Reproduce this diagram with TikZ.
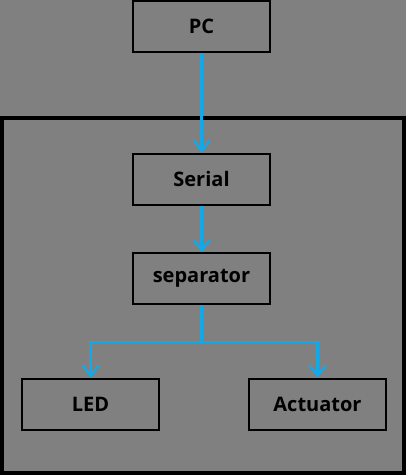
\documentclass[tikz,border=0pt]{standalone}
\usepackage{fontspec}
\setmainfont{Open Sans}
\usetikzlibrary{arrows.meta}
\definecolor{linkblue}{RGB}{20,168,230}
\definecolor{bggray}{RGB}{128,128,128}
\tikzset{
    block/.style={draw=black,line width=1.5pt,minimum width=102.75pt,minimum height=38.25pt,
        inner sep=0pt,font=\fontsize{15}{18}\selectfont\bfseries},
    link/.style={draw=linkblue,line width=1.8pt,-{Straight Barb[length=7.5pt,width=12pt]}}
}
\begin{document}
\begin{tikzpicture}[x=0.75pt,y=-0.75pt]
        %% Background and frame
        \useasboundingbox (0,0) rectangle (406,475);
        \fill[bggray] (0,0) rectangle (406,475);
        \draw[line width=3pt] (2,118) rectangle (404,473);
        %% Blocks
        \node[block] (pc) at (201.5,26.5) {PC};
        \node[block] (serial) at (201.5,179) {Serial};
        \node[block] (separator) at (201.5,278.5) {separator};
        \node[block] (led) at (90.5,404) {LED};
        \node[block] (actuator) at (317.5,404) {Actuator};
        %% Links
        \coordinate (split) at (201.5,342);
        \draw[link] (pc.south) -- (serial.north);
        \draw[link] (serial.south) -- (separator.north);
        \draw[link] (separator.south) -- (split) -| (led.north);
        \draw[link] (split) -| (actuator.north);
    \end{tikzpicture}
\end{document}
